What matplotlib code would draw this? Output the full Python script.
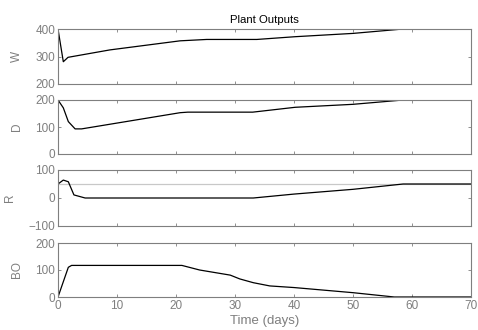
import matplotlib
matplotlib.use("Agg")
import matplotlib.pyplot as plt

plt.rcParams['font.family'] = ['Liberation Sans', 'DejaVu Sans']

# Data
t_W = [0, 0.9, 1.7, 8.8, 20.7, 25.2, 33.7, 40.2, 50, 58.5, 70]
W = [400, 281, 297, 324, 357, 362, 362, 372, 384, 400, 400]

t_D = [0, 0.9, 1.75, 2.9, 4, 20.7, 22, 33, 40.2, 50, 58.5, 70]
D = [200, 171, 120, 93, 93, 153, 155, 155, 173, 184, 200, 200]

t_R = [0, 0.9, 1.75, 2.7, 4.6, 33.1, 40, 50, 58.5, 70]
R = [50, 64, 58, 11, 0, 0, 14, 31, 50, 50]
R_setpoint = 50

t_BO = [0, 1.75, 2.3, 21, 24, 29.2, 30.8, 33.1, 35.9, 40, 50, 57, 70]
BO = [0, 110, 117, 117, 100, 81, 67, 53, 41, 35, 16, 0, 0]

labels = ['W', 'D', 'R', 'BO']
ylims = [(200, 400), (0, 200), (-100, 100), (0, 200)]
yticks = [[200, 300, 400], [0, 100, 200], [-100, 0, 100], [0, 100, 200]]
xticks = [0, 10, 20, 30, 40, 50, 60, 70]

W_px, H_px = 478, 330
fig = plt.figure(figsize=(W_px / 100, H_px / 100), dpi=100)

left, right = 58, 471
rows = [(29, 84), (100, 154), (170, 226), (243, 297)]
series = [(t_W, W), (t_D, D), (t_R, R), (t_BO, BO)]
gray = '#7f7f7f'

axes = []
for i, ((top, bot), (tt, yy)) in enumerate(zip(rows, series)):
    ax = fig.add_axes([left / W_px, 1 - bot / H_px, (right - left) / W_px, (bot - top) / H_px])
    if i == 2:
        ax.axhline(R_setpoint, color='#c8c8c8', lw=0.9)
    ax.plot(tt, yy, color='black', lw=0.9)
    ax.set_xlim(0, 70)
    ax.set_ylim(*ylims[i])
    ax.set_yticks(yticks[i])
    ax.set_xticks(xticks)
    ax.tick_params(direction='in', length=2.5, width=0.6, colors=gray, labelsize=8.5,
                   top=True, right=True, pad=2)
    if i < 3:
        ax.tick_params(labelbottom=False)
    for s in ax.spines.values():
        s.set_color(gray)
        s.set_linewidth(0.8)
    ax.set_ylabel(labels[i], color=gray, fontsize=8.5, labelpad=9)
    axes.append(ax)

axes[0].set_title('Plant Outputs', fontsize=8.2, pad=4)
axes[3].set_xlabel('Time (days)', color=gray, fontsize=9.5, labelpad=2)

fig.savefig('out.png', dpi=100)
